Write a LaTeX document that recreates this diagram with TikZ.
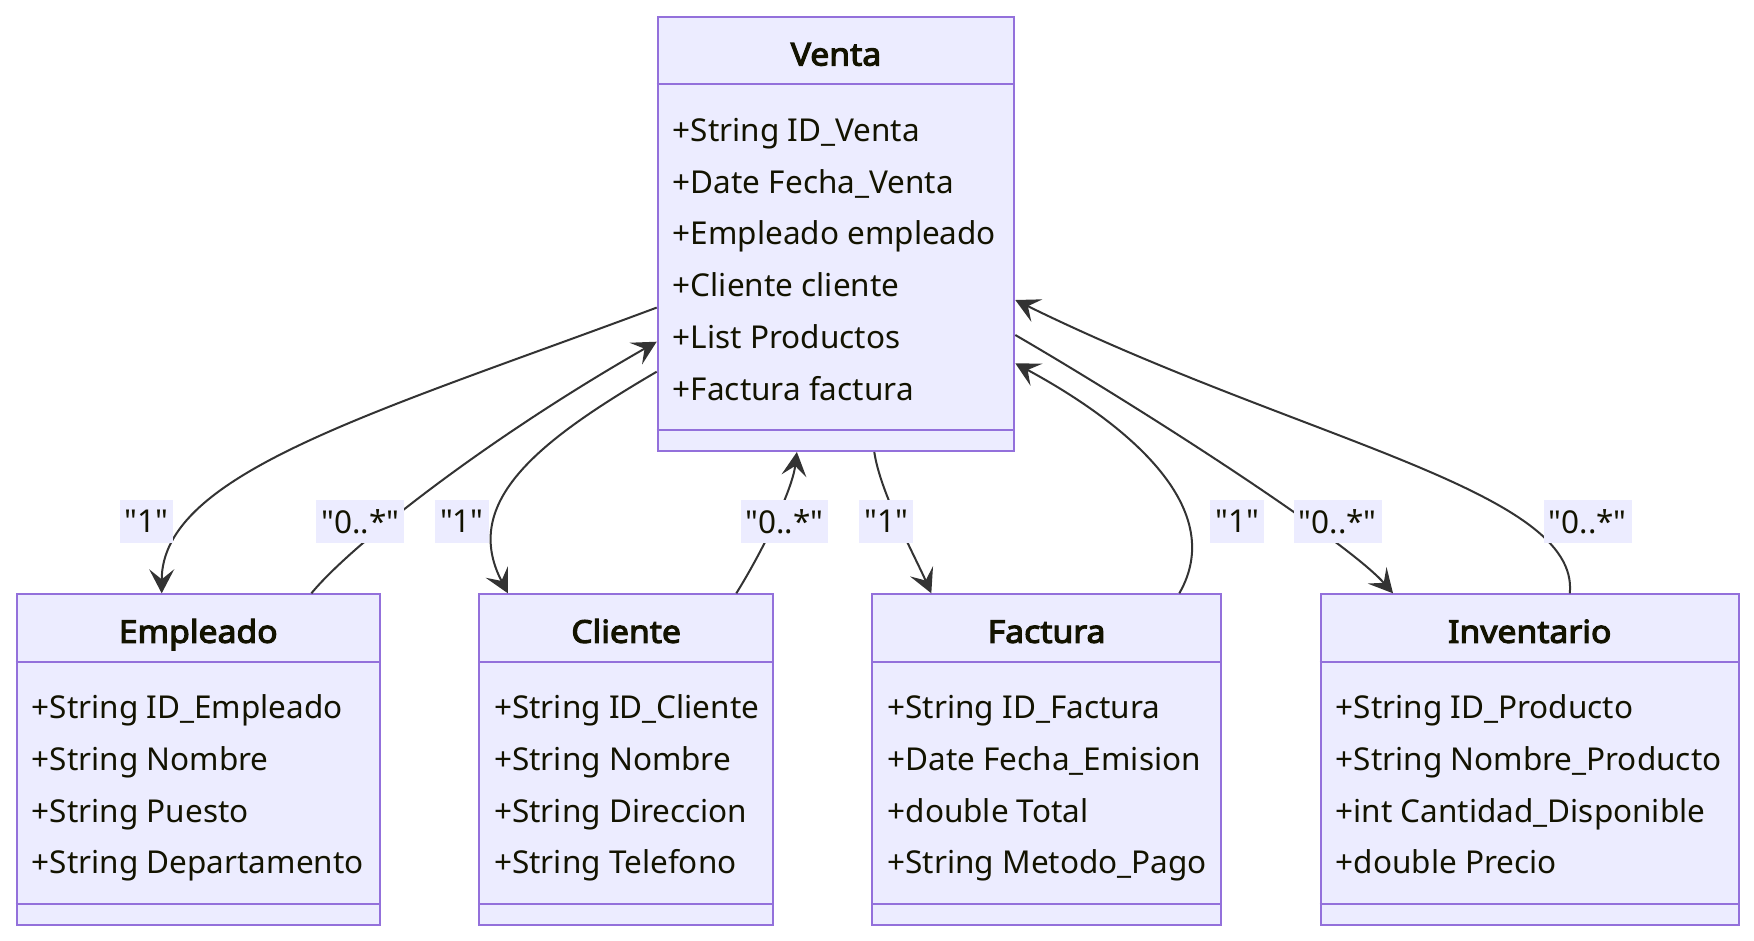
\documentclass[tikz,border=0pt]{standalone}
\usepackage{fontspec}
\setmainfont{Noto Sans}
\newfontfamily\titlefont{Noto Sans}[FakeBold=3.5, FakeStretch=1.07]
\usepackage{xcolor}
\usepackage{tikz}
\usetikzlibrary{calc}
\usetikzlibrary{arrows.meta}

\definecolor{classfill}{HTML}{ECECFF}
\definecolor{classline}{HTML}{9370DB}
\definecolor{edgeline}{HTML}{333333}
\definecolor{textcol}{HTML}{131300}

\tikzset{
    classbox/.style={draw=classline, fill=classfill, line width=2pt, inner sep=0pt, anchor=north west},
    classtitle/.style={anchor=base, inner sep=0pt, text=textcol, font=\titlefont\fontsize{31.5pt}{38pt}\selectfont},
    attr/.style={anchor=base west, inner sep=0pt, text=textcol, font=\fontsize{31.5pt}{38pt}\selectfont},
    divider/.style={draw=classline, line width=2pt},
    edge/.style={draw=edgeline, line width=2pt, -{Stealth[length=24pt, width=25pt, inset=10pt]}},
    mult/.style={fill=classfill, inner xsep=5pt, inner ysep=0pt, minimum height=43.3pt, text=textcol, font=\fontsize{31.5pt}{38pt}\selectfont}
}

\begin{document}
\begin{tikzpicture}[x=1pt, y=-1pt]
        \useasboundingbox (0,0) rectangle (1754,940);
        %VENTA
        \node[classbox, minimum width=356.6pt, minimum height=434pt] (venta) at (656.7,16) {};
        \node[classtitle] (venta-t) at ($(venta.north)+(0,49.5)$) {Venta};
        \draw[divider] ($(venta.north west)+(0,67.5)$) -- ($(venta.north east)+(0,67.5)$);
        \draw[divider] ($(venta.south west)+(0,-22.3)$) -- ($(venta.south east)+(0,-22.3)$);
        \foreach \a [count=\i from 0] in {+String ID\_Venta, +Date Fecha\_Venta, +Empleado empleado, +Cliente cliente, +List Productos, +Factura factura}
            \node[attr] (venta-a\i) at ($(venta.north west)+(16,125.5+51.7*\i)$) {\a};

        %EMPLEADO
        \node[classbox, minimum width=363.1pt, minimum height=330.7pt] (empleado) at (15.7,593.3) {};
        \node[classtitle] (empleado-t) at ($(empleado.north)+(0,49.5)$) {Empleado};
        \draw[divider] ($(empleado.north west)+(0,68.4)$) -- ($(empleado.north east)+(0,68.4)$);
        \draw[divider] ($(empleado.south west)+(0,-22.3)$) -- ($(empleado.south east)+(0,-22.3)$);
        \foreach \a [count=\i from 0] in {+String ID\_Empleado, +String Nombre, +String Puesto, +String Departamento}
            \node[attr] (empleado-a\i) at ($(empleado.north west)+(16,125.5+51.7*\i)$) {\a};

        %CLIENTE
        \node[classbox, minimum width=294.1pt, minimum height=330.7pt] (cliente) at (478.1,593.3) {};
        \node[classtitle] (cliente-t) at ($(cliente.north)+(0,49.5)$) {Cliente};
        \draw[divider] ($(cliente.north west)+(0,68.4)$) -- ($(cliente.north east)+(0,68.4)$);
        \draw[divider] ($(cliente.south west)+(0,-22.3)$) -- ($(cliente.south east)+(0,-22.3)$);
        \foreach \a [count=\i from 0] in {+String ID\_Cliente, +String Nombre, +String Direccion, +String Telefono}
            \node[attr] (cliente-a\i) at ($(cliente.north west)+(16,125.5+51.7*\i)$) {\a};

        %FACTURA
        \node[classbox, minimum width=348.4pt, minimum height=330.7pt] (factura) at (871.4,593.3) {};
        \node[classtitle] (factura-t) at ($(factura.north)+(0,49.5)$) {Factura};
        \draw[divider] ($(factura.north west)+(0,68.4)$) -- ($(factura.north east)+(0,68.4)$);
        \draw[divider] ($(factura.south west)+(0,-22.3)$) -- ($(factura.south east)+(0,-22.3)$);
        \foreach \a [count=\i from 0] in {+String ID\_Factura, +Date Fecha\_Emision, +double Total, +String Metodo\_Pago}
            \node[attr] (factura-a\i) at ($(factura.north west)+(16,125.5+51.7*\i)$) {\a};

        %INVENTARIO
        \node[classbox, minimum width=418.5pt, minimum height=330.7pt] (inventario) at (1319.5,593.3) {};
        \node[classtitle] (inventario-t) at ($(inventario.north)+(0,49.5)$) {Inventario};
        \draw[divider] ($(inventario.north west)+(0,68.4)$) -- ($(inventario.north east)+(0,68.4)$);
        \draw[divider] ($(inventario.south west)+(0,-22.3)$) -- ($(inventario.south east)+(0,-22.3)$);
        \foreach \a [count=\i from 0] in {+String ID\_Producto, +String Nombre\_Producto, +int Cantidad\_Disponible, +double Precio}
            \node[attr] (inventario-a\i) at ($(inventario.north west)+(16,125.5+51.7*\i)$) {\a};

        %EDGES
        \draw[edge] ($(venta.north west)+(0,291.6)$) .. controls +(-282.6,105.4) and +(0,-120) .. ($(empleado.north west)+(146,0)$);
        \draw[edge] ($(empleado.north west)+(295.7,0)$) .. controls +(37.6,-46) and +(-175,100) .. ($(venta.north west)+(0,325.7)$);
        \draw[edge] ($(venta.north west)+(0,355.7)$) .. controls +(-116.6,68.3) and +(-47.9,-92) .. ($(cliente.north west)+(29.8,0)$);
        \draw[edge] ($(cliente.north west)+(258.2,0)$) .. controls +(23.7,-38) and +(-4.9,40) .. ($(venta.south west)+(140.2,0)$);
        \draw[edge] ($(venta.south west)+(217.6,0)$) .. controls +(5.7,40) and +(-16.3,-36.7) .. ($(factura.north west)+(59.9,0)$);
        \draw[edge] ($(factura.north west)+(307.9,0)$) .. controls +(50.7,-88) and +(105,56.7) .. ($(venta.north east)+(0,347.3)$);
        \draw[edge] ($(venta.north east)+(0,319)$) .. controls +(129,75) and +(-46,-52.2) .. ($(inventario.north west)+(73.5,0)$);
        \draw[edge] ($(inventario.north west)+(250.3,0)$) .. controls +(10.2,-103) and +(285,140) .. ($(venta.north east)+(0,284)$);

        %LABELS
        \node[mult] (m1) at (146.5,521.7) {\textquotedbl 1\textquotedbl};
        \node[mult] (m2) at (360.3,521.7) {\textquotedbl 0..*\textquotedbl};
        \node[mult] (m3) at (461.9,521.7) {\textquotedbl 1\textquotedbl};
        \node[mult] (m4) at (784.5,521.7) {\textquotedbl 0..*\textquotedbl};
        \node[mult] (m5) at (886,521.7) {\textquotedbl 1\textquotedbl};
        \node[mult] (m6) at (1237,521.7) {\textquotedbl 1\textquotedbl};
        \node[mult] (m7) at (1337.8,521.7) {\textquotedbl 0..*\textquotedbl};
        \node[mult] (m8) at (1587.7,521.7) {\textquotedbl 0..*\textquotedbl};
\end{tikzpicture}
\end{document}
